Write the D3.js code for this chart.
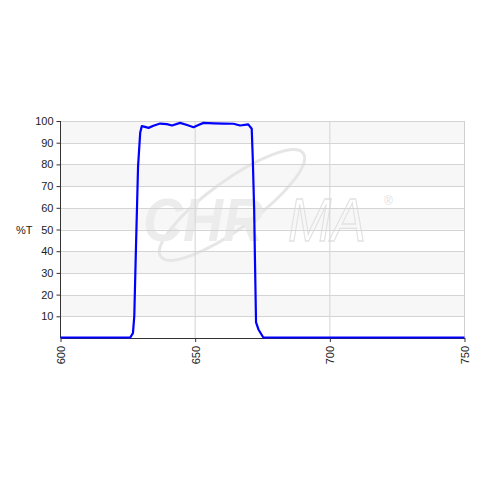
<!DOCTYPE html>
<html><head><meta charset="utf-8">
<script src="https://cdn.jsdelivr.net/npm/d3@7/dist/d3.min.js"></script>
<style>body{margin:0;background:#fff}svg{display:block}</style>
</head><body>
<script>
const wavelengths = [600,624,625.9,626.9,627.4,628.0,628.8,629.6,630.2,631,632.7,634.5,637,639.5,641.4,644.4,647,649.4,651,653.1,657,660.5,664.2,666.7,669.7,671,671.4,671.9,672.2,672.6,673.5,675.3,700,750];
const transmission = [0,0,0,2,10,40.5,79,94.5,97.4,97.2,96.6,97.6,98.6,98.3,97.7,98.9,97.9,96.9,97.8,98.9,98.7,98.6,98.5,97.7,98.2,96.2,82,59,36,7,3.7,0,0,0];
const xTicks = [600,650,700,750];
const yTicks = [10,20,30,40,50,60,70,80,90,100];
const yLabel = "%T";

const W=480,H=480;
const svg=d3.select("body").append("svg").attr("width",W).attr("height",H);
const x=d3.scaleLinear().domain([600,750]).range([60.5,464.5]);
const y=d3.scaleLinear().domain([0,100]).range([338,121]);

// bands
const bands=d3.range(0,100,10);
svg.append("g").selectAll("rect").data(bands).join("rect")
  .attr("x",x(600)).attr("width",x(750)-x(600))
  .attr("y",d=>y(d+10)).attr("height",d=>y(d)-y(d+10))
  .attr("fill",(d,i)=>i%2===1?"#f7f7f7":"#ffffff");

// watermark
const wm=svg.append("g");
wm.append("ellipse").attr("cx",232).attr("cy",205).attr("rx",88).attr("ry",24)
  .attr("transform","rotate(-36,232,205)").attr("fill","none").attr("stroke","#e6e6e6").attr("stroke-width",3);
wm.append("text").attr("x",143).attr("y",241).attr("font-family","Liberation Sans, Arial, sans-serif")
  .attr("font-weight","bold").attr("font-style","italic").attr("font-size",62).attr("fill","#ececec")
  .attr("textLength",120).attr("lengthAdjust","spacingAndGlyphs").text("CHR");
wm.append("text").attr("x",288).attr("y",241).attr("font-family","Liberation Sans, Arial, sans-serif")
  .attr("font-style","italic").attr("font-size",62).attr("fill","none").attr("stroke","#e2e2e2").attr("stroke-width",1.3)
  .attr("textLength",78).attr("lengthAdjust","spacingAndGlyphs").text("MA");
wm.append("text").attr("x",384).attr("y",205).attr("font-family","Liberation Sans, Arial, sans-serif")
  .attr("font-size",12).attr("fill","#e2e2e2").text("®");

// grid
svg.append("g").selectAll("line").data(yTicks).join("line")
  .attr("x1",x(600)).attr("x2",x(750)).attr("y1",d=>Math.round(y(d))+0.5).attr("y2",d=>Math.round(y(d))+0.5)
  .attr("stroke","#d4d4d4");
svg.append("g").selectAll("line").data(xTicks.slice(1)).join("line")
  .attr("x1",d=>x(d)).attr("x2",d=>x(d)).attr("y1",y(100)).attr("y2",y(0))
  .attr("stroke","#d4d4d4");
// right border of plot area
svg.append("line").attr("x1",x(750)).attr("x2",x(750)).attr("y1",y(100)).attr("y2",y(0))
  .attr("stroke","#d0d0d0");

// axes
const yAxis=svg.append("g").attr("transform",`translate(${x(600)},0)`)
  .call(d3.axisLeft(y).tickValues(yTicks).tickSize(4).tickSizeOuter(0));
yAxis.select(".domain").attr("stroke","#333").attr("d",`M0,${y(100)}V${y(0)}`);
yAxis.selectAll("line").attr("stroke","#333");
yAxis.selectAll("text").attr("font-family","Liberation Sans, Arial, sans-serif").attr("font-size",11).attr("fill","#222").attr("x",-7);

const xAxis=svg.append("g").attr("transform",`translate(0,${y(0)})`)
  .call(d3.axisBottom(x).tickValues(xTicks).tickSize(4).tickSizeOuter(0));
xAxis.select(".domain").attr("stroke","#333");
xAxis.selectAll("line").attr("stroke","#333");
xAxis.selectAll("text").attr("font-family","Liberation Sans, Arial, sans-serif").attr("font-size",11).attr("fill","#222")
  .attr("transform","rotate(-90)").attr("text-anchor","end").attr("dy","0.35em").attr("x",-8).attr("y",0);

svg.append("text").attr("x",16).attr("y",234).attr("font-family","Liberation Sans, Arial, sans-serif")
  .attr("font-size",11).attr("fill","#222").text(yLabel);

// curve
const data=wavelengths.map((w,i)=>[w,transmission[i]]);
svg.append("path").datum(data)
  .attr("d",d3.line().x(d=>x(d[0])).y(d=>y(d[1])-0.5))
  .attr("fill","none").attr("stroke","#0000ff").attr("stroke-width",2.2).attr("stroke-linejoin","round");
</script>
</body></html>
